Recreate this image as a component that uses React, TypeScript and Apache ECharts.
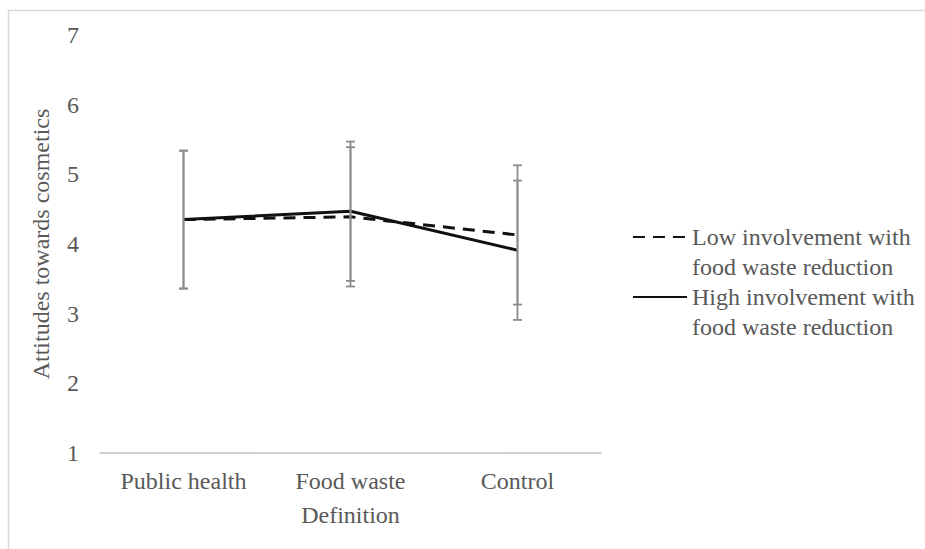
import React, { useEffect, useRef } from "react";
import * as echarts from "echarts";

const categories = ["Public health", "Food waste", "Control"];
const seriesNames = [
  "Low involvement with\nfood waste reduction",
  "High involvement with\nfood waste reduction",
];
const lowMeans = [4.35, 4.39, 4.13];
const highMeans = [4.35, 4.47, 3.91];
const lowErrors = [0.99, 1.0, 1.0];
const highErrors = [0.99, 1.0, 1.0];
const yTicks = [1, 2, 3, 4, 5, 6, 7];

const FONT = "'Liberation Serif', 'Times New Roman', serif";
const TEXT = "#595959";

function errorData(means: number[], errs: number[]) {
  return means.map((m, i) => [i, m - errs[i], m + errs[i]]);
}

function renderErr(params: any, api: any) {
  const x = api.value(0);
  const lo = api.coord([x, api.value(1)]);
  const hi = api.coord([x, api.value(2)]);
  const cap = 4.5;
  const style = { stroke: "#8c8c8c", lineWidth: 1.8 };
  return {
    type: "group",
    children: [
      { type: "line", shape: { x1: hi[0], y1: hi[1], x2: lo[0], y2: lo[1] }, style },
      { type: "line", shape: { x1: hi[0] - cap, y1: hi[1], x2: hi[0] + cap, y2: hi[1] }, style },
      { type: "line", shape: { x1: lo[0] - cap, y1: lo[1], x2: lo[0] + cap, y2: lo[1] }, style },
    ],
  };
}

export default function App() {
  const ref = useRef<HTMLDivElement>(null);
  useEffect(() => {
    if (!ref.current) return;
    const chart = echarts.init(ref.current, undefined, { renderer: "svg" });
    const legendText = {
      color: TEXT,
      fontFamily: FONT,
      fontSize: 24,
      lineHeight: 30,
    };
    const legendCommon = {
      orient: "vertical",
      left: 632,
      padding: 0,
      itemWidth: 54,
      itemHeight: 14,
      textStyle: legendText,
      selectedMode: false,
      itemStyle: { opacity: 0 },
      formatter: (name: string) => " \n" + name,
    };
    chart.setOption({
      animation: false,
      backgroundColor: "#ffffff",
      textStyle: { fontFamily: FONT },
      graphic: [
        {
          type: "rect",
          silent: true,
          shape: { x: 8.5, y: 10.5, width: 940, height: 560 },
          style: { fill: "none", stroke: "#d9d9d9", lineWidth: 1.5 },
        },
      ],
      grid: { left: 100, right: 324, top: 35, bottom: 96, containLabel: false },
      legend: [
        { ...legendCommon, top: 192, data: [seriesNames[0]] },
        { ...legendCommon, top: 252, data: [seriesNames[1]] },
      ],
      xAxis: {
        type: "category",
        data: categories,
        boundaryGap: true,
        name: "Definition",
        nameLocation: "middle",
        nameGap: 50,
        nameTextStyle: { color: TEXT, fontFamily: FONT, fontSize: 24 },
        axisLine: { show: true, lineStyle: { color: "#bfbfbf", width: 1.5 } },
        axisTick: { show: false },
        axisLabel: { color: TEXT, fontFamily: FONT, fontSize: 24, margin: 16 },
        splitLine: { show: false },
      },
      yAxis: {
        type: "value",
        min: yTicks[0],
        max: yTicks[yTicks.length - 1],
        interval: 1,
        name: "Attitudes towards cosmetics",
        nameLocation: "middle",
        nameGap: 47,
        nameTextStyle: { color: TEXT, fontFamily: FONT, fontSize: 24 },
        axisLine: { show: false },
        axisTick: { show: false },
        axisLabel: { color: TEXT, fontFamily: FONT, fontSize: 24, margin: 21 },
        splitLine: { show: false },
      },
      series: [
        {
          name: seriesNames[0],
          type: "line",
          data: lowMeans,
          symbol: "none",
          lineStyle: { color: "#111111", width: 3, type: [12, 8] },
          itemStyle: { color: "#111111" },
          z: 3,
        },
        {
          name: seriesNames[1],
          type: "line",
          data: highMeans,
          symbol: "none",
          lineStyle: { color: "#111111", width: 3, type: "solid" },
          itemStyle: { color: "#111111" },
          z: 3,
        },
        {
          name: "lowErr",
          type: "custom",
          renderItem: renderErr,
          data: errorData(lowMeans, lowErrors),
          encode: { x: 0, y: [1, 2] },
          z: 4,
          silent: true,
        },
        {
          name: "highErr",
          type: "custom",
          renderItem: renderErr,
          data: errorData(highMeans, highErrors),
          encode: { x: 0, y: [1, 2] },
          z: 4,
          silent: true,
        },
      ],
    });
    return () => chart.dispose();
  }, []);
  return (
    <div
      ref={ref}
      style={{ position: "absolute", left: 0, top: 0, width: 925, height: 549 }}
    />
  );
}
